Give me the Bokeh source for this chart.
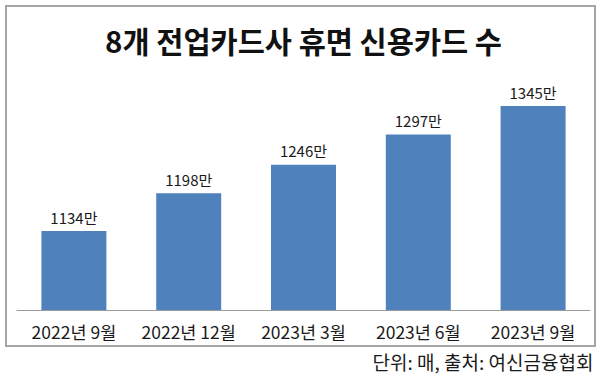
from bokeh.plotting import figure
from bokeh.models import ColumnDataSource, Range1d, FactorRange, Title, InlineStyleSheet
from bokeh.core.properties import value
from bokeh.embed import file_html
from bokeh.resources import INLINE

# ---- data ----
categories = ["2022년 9월", "2022년 12월", "2023년 3월", "2023년 6월", "2023년 9월"]
values = [1134, 1198, 1246, 1297, 1345]
value_labels = [f"{v}만" for v in values]
title_text = "8개 전업카드사 휴면 신용카드 수"
source_text = "단위: 매, 출처: 여신금융협회"
y_start = 1000
y_end = 1410

FONT = "Noto Sans CJK KR"
BAR_COLOR = "#4f81bd"
TEXT_COLOR = "#1a1a1a"

src = ColumnDataSource(dict(cat=categories, val=values, label=value_labels))

# chart border box (drawn by CSS around the title/plot/axis area)
frame_css = InlineStyleSheet(css="""
:host { position: relative; }
:host::after {
  content: "";
  position: absolute;
  left: 5px; top: 5px;
  width: 591px; height: 342px;
  box-sizing: border-box;
  border: 2px solid #a6a6a6;
  pointer-events: none;
  z-index: 10;
}
""")

p = figure(
    x_range=FactorRange(factors=categories, range_padding=0),
    y_range=Range1d(y_start, y_end),
    width=600, height=377,
    output_backend="svg", toolbar_location=None,
    y_axis_location=None,
    min_border_left=16, min_border_right=10,
    min_border_top=67, min_border_bottom=67,
    stylesheets=[frame_css],
)
p.xgrid.grid_line_color = None
p.ygrid.grid_line_color = None
p.outline_line_color = None
p.background_fill_color = "white"
p.border_fill_color = "white"

p.vbar(x="cat", top="val", bottom=y_start, width=0.566, source=src,
       fill_color=BAR_COLOR, line_color=None)

p.text(x="cat", y="val", text="label", source=src,
       text_align="center", text_baseline="alphabetic", y_offset=-14,
       text_font=value(FONT), text_font_size="15px", text_color=TEXT_COLOR)

ax = p.xaxis[0]
ax.axis_line_color = "#9a9a9a"
ax.axis_line_width = 1
ax.major_tick_line_color = None
ax.minor_tick_line_color = None
ax.major_tick_out = 0
ax.major_tick_in = 0
ax.major_label_standoff = 8
ax.major_label_text_font = FONT
ax.major_label_text_font_size = "17.5px"
ax.major_label_text_color = TEXT_COLOR

p.title.text = title_text
p.title.align = "center"
p.title.standoff = 13
p.title.text_font = FONT
p.title.text_font_size = "29.5px"
p.title.text_font_style = "bold"
p.title.text_color = "#111111"

p.add_layout(Title(text=source_text, align="right", offset=-3, standoff=-1,
                   text_font=FONT, text_font_size="19px", text_font_style="normal",
                   text_color=TEXT_COLOR), "below")

open("out.html", "w").write(file_html(p, INLINE))
